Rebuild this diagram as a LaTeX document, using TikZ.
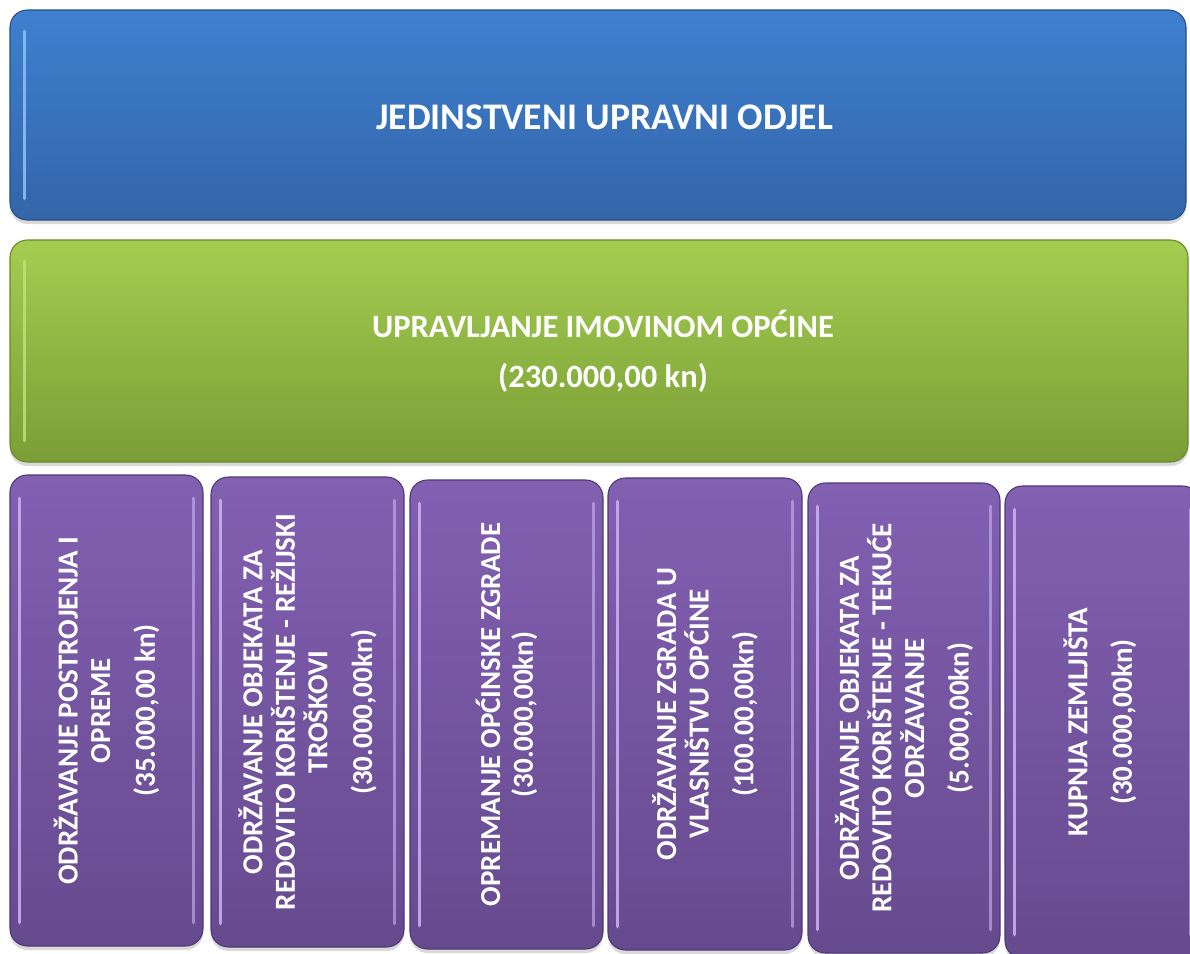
\documentclass[tikz,border=0pt]{standalone}
\usepackage{fontspec}
\setmainfont{Carlito}
\usetikzlibrary{calc,fit,shadows}
\definecolor{odjelTop}{RGB}{62,128,208}
\definecolor{odjelBot}{RGB}{51,101,168}
\definecolor{odjelEdge}{RGB}{38,78,132}
\definecolor{odjelShine}{RGB}{140,195,245}
\definecolor{imovinaTop}{RGB}{164,205,80}
\definecolor{imovinaBot}{RGB}{122,158,54}
\definecolor{imovinaEdge}{RGB}{104,138,44}
\definecolor{imovinaShine}{RGB}{190,225,120}
\definecolor{stavkaTop}{RGB}{130,96,178}
\definecolor{stavkaBot}{RGB}{102,74,142}
\definecolor{stavkaEdge}{RGB}{80,56,116}
\definecolor{stavkaShine}{RGB}{205,180,245}
\tikzset{
  mainbox/.style={draw=#1Edge, top color=#1Top, bottom color=#1Bot, line width=0.8pt,
    rounded corners=13pt, inner sep=0pt,
    drop shadow={shadow xshift=0pt, shadow yshift=-3pt, opacity=0.3}},
  shine/.style={draw=#1, line width=2.8pt, line cap=round, opacity=0.85},
  headtext/.style={text=white, font=\bfseries\fontsize{28.2}{33}\selectfont, align=center},
  subtext/.style={text=white, font=\bfseries\fontsize{21.75}{24.4}\selectfont, align=center, rotate=90}
}

\begin{document}
\begin{tikzpicture}[x=0.75pt, y=-0.75pt]
		%%%%% START %%%%%
		\useasboundingbox (0,0) rectangle (1190,954);
		
		% odjel
		\node[mainbox=odjel, fit={(10,10) (1186,220)}] (odjel) {};
		\draw[shine=odjelShine] ($(odjel.north west)+(15,22)$) -- ($(odjel.south west)+(15,-22)$);
		\node[headtext] (odjeltxt) at ([xshift=5pt, yshift=-1.5pt]odjel.center) {JEDINSTVENI UPRAVNI ODJEL};
		
		% program
		\node[mainbox=imovina, fit={(10,240) (1188,462)}] (imovina) {};
		\draw[shine=imovinaShine] ($(imovina.north west)+(15,22)$) -- ($(imovina.south west)+(15,-22)$);
		\node[headtext, font=\bfseries\fontsize{24.4}{29}\selectfont] (imovinatxt) at ([xshift=3pt]imovina.center)
			{UPRAVLJANJE IMOVINOM OPĆINE\\[8.5pt] (230.000,00 kn)};
		
		% stavke
		\node[mainbox=stavka, fit={(10,475) (203,946)}] (s1) {};
		\node[mainbox=stavka, fit={(211,477) (404,947)}] (s2) {};
		\node[mainbox=stavka, fit={(410,480) (603,949)}] (s3) {};
		\node[mainbox=stavka, fit={(608,478) (802,950)}] (s4) {};
		\node[mainbox=stavka, fit={(808,483) (1000,953)}] (s5) {};
		\node[mainbox=stavka, fit={(1005,486) (1200,958)}] (s6) {};
		\foreach \s in {s1,s2,s3,s4,s5,s6}{
			\draw[shine=stavkaShine] ($(\s.north west)+(10,24)$) -- ($(\s.south west)+(10,-24)$);
			\draw[shine=stavkaShine, opacity=0.6] ($(\s.north east)+(-10,24)$) -- ($(\s.south east)+(-10,-24)$);
		}
		
		\node[subtext] (s1txt) at (s1.center) {ODRŽAVANJE POSTROJENJA I\\ OPREME\\[9pt] (35.000,00 kn)};
		\node[subtext] (s2txt) at (s2.center) {ODRŽAVANJE OBJEKATA ZA\\ REDOVITO KORIŠTENJE - REŽIJSKI\\ TROŠKOVI\\[9pt] (30.000,00kn)};
		\node[subtext] (s3txt) at (s3.center) {OPREMANJE OPĆINSKE ZGRADE\\ (30.000,00kn)};
		\node[subtext] (s4txt) at (s4.center) {ODRŽAVANJE ZGRADA U\\ VLASNIŠTVU OPĆINE\\[9pt] (100.00,00kn)};
		\node[subtext] (s5txt) at (s5.center) {ODRŽAVANJE OBJEKATA ZA\\ REDOVITO KORIŠTENJE - TEKUĆE\\ ODRŽAVANJE\\[9pt] (5.000,00kn)};
		\node[subtext] (s6txt) at ([xshift=-2pt]s6.center) {KUPNJA ZEMLJIŠTA\\[9pt] (30.000,00kn)};
		%%%%% END %%%%%
\end{tikzpicture}
\end{document}
